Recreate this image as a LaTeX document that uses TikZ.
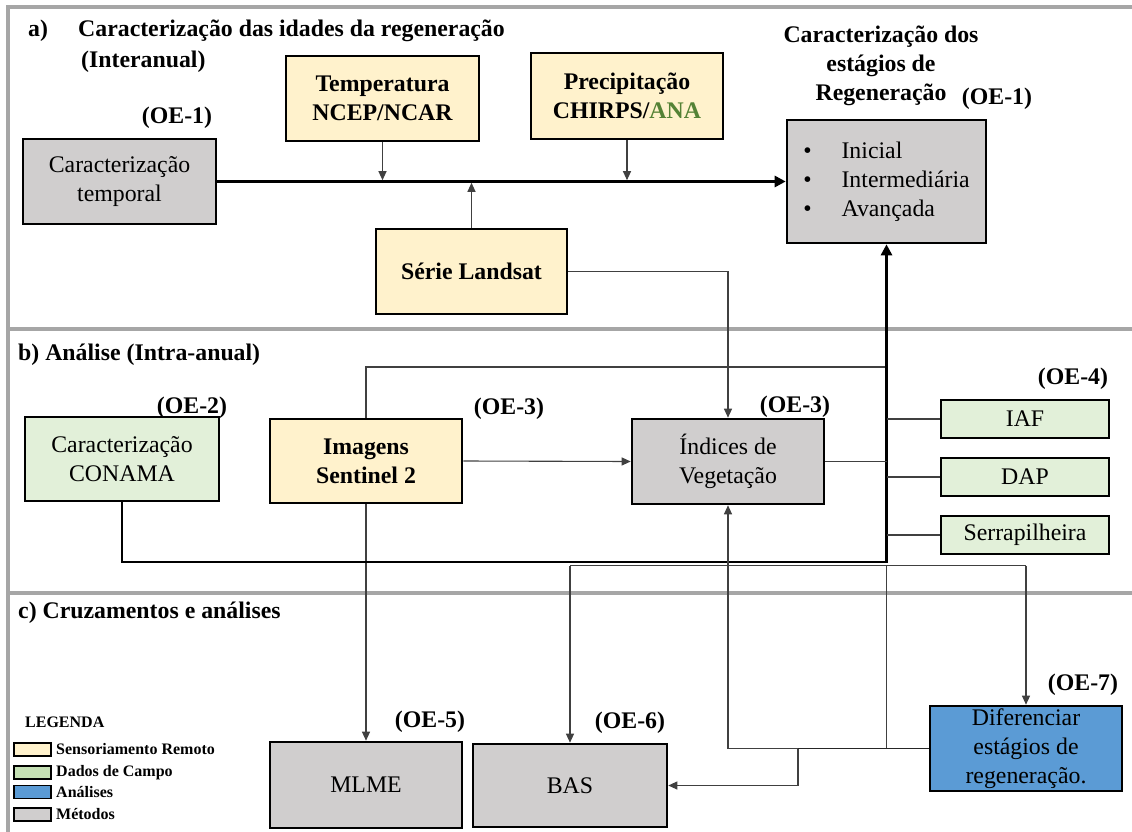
\documentclass[tikz,border=0pt]{standalone}
\usepackage{fontspec}
\setmainfont{Liberation Serif}
\usetikzlibrary{arrows.meta}
\definecolor{gbox}{HTML}{D0CECE}
\definecolor{ybox}{HTML}{FFF2CC}
\definecolor{grbox}{HTML}{E2F0D9}
\definecolor{grleg}{HTML}{C5E0B4}
\definecolor{bbox}{HTML}{5B9BD5}
\definecolor{panelc}{HTML}{A6A6A6}
\definecolor{thinc}{HTML}{404040}
\definecolor{anagreen}{HTML}{548235}
\pgfdeclarelayer{bg}
\pgfsetlayers{bg,main}
\newcommand\fr{\fontsize{23.8}{29}\selectfont}
\newcommand\fl{\fontsize{16}{19}\selectfont\bfseries}
\tikzset{
  box/.style={draw=black, line width=2.6pt, inner sep=0pt, align=center, font=\fr},
  bbx/.style={box, font=\fr\bfseries},
  lbl/.style={inner sep=0pt, font=\fr\bfseries, align=center},
  lblw/.style={lbl, anchor=west, align=left},
  panelline/.style={draw=panelc, line width=3.2pt},
  thinline/.style={draw=thinc, line width=1.1pt},
  thinarrow/.style={thinline, -{Triangle[length=9pt,width=8pt]}},
  thickline/.style={draw=black, line width=2.7pt},
  thickarrow/.style={thickline, -{Triangle[length=11pt,width=11pt]}},
  medline/.style={draw=black!85, line width=1.9pt},
  legsw/.style={draw=black, line width=1.8pt, minimum width=37, minimum height=13, inner sep=0pt},
  legtx/.style={inner sep=0pt, anchor=west, font=\fl},
}
\begin{document}
\begin{tikzpicture}[x=1pt,y=-1pt]
\useasboundingbox (0,0) rectangle (1132,832);
\begin{pgfonlayer}{bg}
\draw[panelline] (1132,7) -- (8,7) -- (8,832);
\draw[panelline] (8,329) -- (1132,329);
\draw[panelline] (8,593) -- (1132,593);
\end{pgfonlayer}

% titles
\node[lblw] (ta) at (28,31) {a)};
\node[lblw] (tat) at (78,31) {Caracterização das idades da regeneração};
\node[lblw] (tai) at (81,62) {(Interanual)};
\node[lbl] (tr) at (881,66) {Caracterização dos\\estágios de\\Regeneração};
\node[lbl] (oe1b) at (997,99) {(OE-1)};
\node[lbl] (oe1a) at (177,118) {(OE-1)};
\node[lblw] (tb) at (18,355) {b) Análise (Intra-anual)};
\node[lblw] (tc) at (18,613) {c) Cruzamentos e análises};
\node[lbl] (oe2) at (192,408) {(OE-2)};
\node[lbl] (oe3a) at (509,409) {(OE-3)};
\node[lbl] (oe3b) at (795,407) {(OE-3)};
\node[lbl] (oe4) at (1073,379) {(OE-4)};
\node[lbl] (oe5) at (430,722) {(OE-5)};
\node[lbl] (oe6) at (630,723) {(OE-6)};
\node[lbl] (oe7) at (1083,685) {(OE-7)};

% boxes
\node[box, fill=gbox, minimum width=193, minimum height=85] (temporal) at (119.5,181.5) {Caracterização\\temporal};
\node[bbx, fill=ybox, minimum width=193, minimum height=85] (temp) at (382.5,98.5) {Temperatura\\NCEP/NCAR};
\node[bbx, fill=ybox, minimum width=192, minimum height=86] (prec) at (627,96) {Precipitação\\CHIRPS/\textcolor{anagreen}{ANA}};
\node[box, fill=gbox, minimum width=199, minimum height=123] (estagios) at (886.5,181.5)
  {\begin{tabular}{@{}l@{\hspace{30pt}}l@{}}•&Inicial\\•&Intermediária\\•&Avançada\end{tabular}};
\node[bbx, fill=ybox, minimum width=191, minimum height=85] (landsat) at (471.5,271.5) {Série Landsat};
\node[box, fill=grbox, minimum width=194, minimum height=84] (conama) at (122,459) {Caracterização\\CONAMA};
\node[bbx, fill=ybox, minimum width=192, minimum height=84] (sentinel) at (366,461) {Imagens\\Sentinel 2};
\node[box, fill=gbox, minimum width=192, minimum height=85] (indices) at (728,461.5) {Índices de\\Vegetação};
\node[box, fill=grbox, minimum width=168, minimum height=38] (iaf) at (1025,419) {IAF};
\node[box, fill=grbox, minimum width=168, minimum height=38] (dap) at (1025,477) {DAP};
\node[box, fill=grbox, minimum width=168, minimum height=38] (serr) at (1025,535) {Serrapilheira};
\node[box, fill=gbox, minimum width=192, minimum height=86] (mlme) at (366,785) {MLME};
\node[box, fill=gbox, minimum width=194, minimum height=83] (bas) at (570,785.5) {BAS};
\node[box, fill=bbox, minimum width=192, minimum height=85] (dif) at (1026,748.5) {Diferenciar\\estágios de\\regeneração.};

% legend
\node[lblw, font=\fl] (leg) at (25,722) {LEGENDA};
\node[legsw, fill=ybox] (lg1) at (32.5,749.5) {};
\node[legsw, fill=grleg] (lg2) at (32.5,772.5) {};
\node[legsw, fill=bbox] (lg3) at (32.5,792) {};
\node[legsw, fill=gbox] (lg4) at (32.5,814.5) {};
\node[legtx] (lt1) at (56,749.5) {Sensoriamento Remoto};
\node[legtx] (lt2) at (56,772.5) {Dados de Campo};
\node[legtx] (lt3) at (56,792) {Análises};
\node[legtx] (lt4) at (56,814.5) {Métodos};

% connectors section a
\draw[thickarrow] (temporal.east) -- (estagios.west);
\draw[thinarrow, shorten >=1.3pt] (temp.south) -- (temp.south |- temporal.east);
\draw[thinarrow, shorten >=1.3pt] (prec.south) -- (prec.south |- temporal.east);
\draw[thinarrow, shorten >=1.3pt] (landsat.north) -- (landsat.north |- temporal.east);
\draw[thinarrow] (landsat.east) -| (indices.north);

% thick CONAMA -> estagios
\coordinate (tk) at (0,562);
\draw[thickarrow] (conama.south) |- (estagios.south |- tk) -- (estagios.south);

% line behind Sentinel to MLME
\coordinate (sl) at (0,367);
\begin{pgfonlayer}{bg}
\draw[thinarrow] (estagios.south |- sl) -| (mlme.north);
\end{pgfonlayer}

\draw[thinarrow] (sentinel.east) -- (indices.west);
\draw[thinline] (indices.east) -- (indices.east -| estagios.south);
\draw[thinline] (iaf.west) -- (iaf.west -| estagios.south);
\draw[thinline] (dap.west) -- (dap.west -| estagios.south);
\draw[thinline] (serr.west) -- (serr.west -| estagios.south);

% bus
\coordinate (bus) at (0,565.5);
\draw[thinline] (bas.north |- bus) -- (dif.north |- bus);
\draw[thinarrow] (bas.north |- bus) -- (bas.north);
\draw[thinarrow] (dif.north |- bus) -- (dif.north);
\draw[thinline] (estagios.south |- bus) -- (estagios.south |- dif.west);
\coordinate (jx) at (798,0);
\draw[thinarrow] (dif.west) -| (indices.south);
\draw[medline] (dif.west) -- (dif.west -| jx);
\draw[thinarrow] (dif.west -| jx) |- (bas.east);
\end{tikzpicture}
\end{document}
